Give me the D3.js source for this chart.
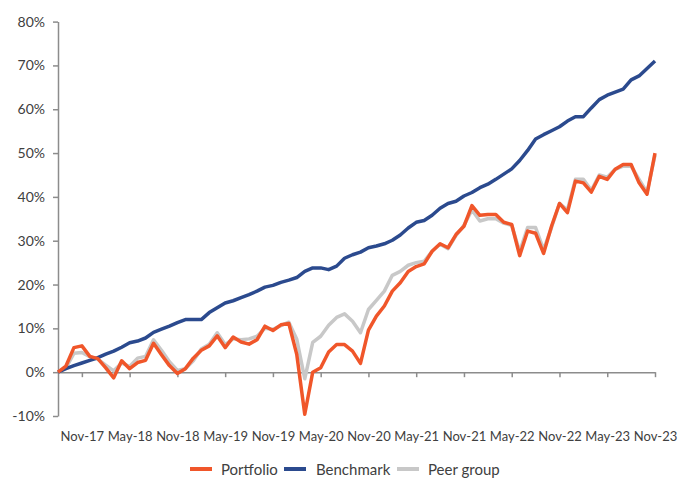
<!DOCTYPE html>
<html>
<head>
<meta charset="utf-8">
<script src="https://d3js.org/d3.v7.min.js"></script>
<style>
  body { margin: 0; background: #fff; }
  svg text { font-family: Lato, "Open Sans", sans-serif; fill: #404040; }
</style>
</head>
<body>
<svg id="chart" width="679" height="479"></svg>
<script>
// monthly points, Aug-17 .. Nov-23
var months = d3.timeMonths(new Date(2017, 7, 1), new Date(2023, 11, 1)).map(d3.timeFormat("%b-%y"));

var portfolio = [0, 1.4, 5.6, 6.0, 3.6, 3.1, 1.0, -1.3, 2.6, 0.8, 2.2, 2.7, 6.6, 4.0, 1.5, -0.3,
  0.8, 3.2, 5.0, 6.0, 8.3, 5.6, 8.0, 6.9, 6.4, 7.4, 10.5, 9.5, 10.8, 11.1, 4.0, -9.6,
  0.0, 1.0, 4.6, 6.3, 6.3, 4.8, 2.0, 9.6, 12.8, 15.1, 18.5, 20.4, 23.0, 24.1, 24.7, 27.6,
  29.3, 28.4, 31.4, 33.3, 38.0, 35.8, 36.0, 36.0, 34.2, 33.7, 26.6, 32.2, 31.7, 27.1, 33.3, 38.5,
  36.4, 43.6, 43.2, 41.1, 44.7, 44.0, 46.3, 47.4, 47.4, 43.2, 40.6, 50.0];

var benchmark = [0, 0.8, 1.5, 2.1, 2.7, 3.3, 4.1, 4.8, 5.7, 6.7, 7.1, 7.8, 9.1, 9.8, 10.5, 11.3,
  12.0, 12.0, 12.0, 13.6, 14.7, 15.8, 16.3, 17.0, 17.7, 18.5, 19.4, 19.8, 20.5, 21.0, 21.6, 23.0,
  23.8, 23.8, 23.4, 24.2, 26.0, 26.8, 27.4, 28.4, 28.8, 29.3, 30.1, 31.3, 32.9, 34.2, 34.6, 35.8,
  37.4, 38.5, 39.0, 40.2, 41.0, 42.1, 42.9, 44.0, 45.2, 46.4, 48.3, 50.6, 53.2, 54.2, 55.1, 56.0,
  57.3, 58.3, 58.3, 60.3, 62.2, 63.2, 63.9, 64.6, 66.7, 67.6, 69.3, 71.0];

var peer = [0, 1.0, 4.3, 4.5, 3.5, 3.0, 1.6, 0.3, 2.1, 1.3, 3.2, 3.6, 7.4, 5.0, 2.4, 0.4,
  0.8, 2.6, 5.3, 6.4, 9.0, 6.3, 7.6, 7.4, 7.6, 8.2, 10.0, 9.8, 10.6, 11.4, 7.5, -1.5,
  6.8, 8.2, 10.7, 12.5, 13.3, 11.6, 9.0, 14.3, 16.4, 18.5, 22.1, 23.0, 24.4, 25.0, 25.3, 27.6,
  29.2, 28.2, 31.2, 33.5, 37.0, 34.5, 35.0, 35.0, 34.0, 33.5, 27.5, 33.0, 33.0, 28.0, 33.0, 38.5,
  37.0, 44.0, 44.0, 41.5, 45.0, 44.5, 46.3, 47.0, 47.0, 44.0, 41.0, 49.5];

var yTicks = [-10, 0, 10, 20, 30, 40, 50, 60, 70, 80];
var xTicks = months.filter(function(m) { return m.startsWith("Nov") || m.startsWith("May"); });

var svg = d3.select("#chart");

var x = d3.scalePoint().domain(months).range([58, 655]);
var y = d3.scaleLinear().domain([-10, 80]).range([416, 21.6]);

// y axis
var yAxis = svg.append("g")
    .attr("transform", "translate(58,0)")
    .call(d3.axisLeft(y).tickValues(yTicks).tickSize(5).tickSizeOuter(0).tickPadding(8)
      .tickFormat(function(d) { return d + "%"; }));
yAxis.selectAll("text").style("font-size", "14px");

// x axis sits on 0%
var xAxis = svg.append("g")
    .attr("transform", "translate(0," + y(0) + ")")
    .call(d3.axisBottom(x).tickValues(xTicks).tickSize(5).tickSizeOuter(0));
xAxis.selectAll("text").attr("y", 60).style("font-size", "13px");

svg.selectAll(".domain, .tick line").attr("stroke", "#8c8c8c").attr("stroke-width", 1.5);

var line = d3.line()
    .x(function(d, i) { return x(months[i]); })
    .y(function(d) { return y(d); });

svg.append("path").datum(peer).attr("d", line)
    .attr("fill", "none").attr("stroke", "#C8C8C8").attr("stroke-width", 3.5).attr("stroke-linejoin", "round");
svg.append("path").datum(benchmark).attr("d", line)
    .attr("fill", "none").attr("stroke", "#2B4A8E").attr("stroke-width", 3.5).attr("stroke-linejoin", "round");
svg.append("path").datum(portfolio).attr("d", line)
    .attr("fill", "none").attr("stroke", "#F0562A").attr("stroke-width", 3.5).attr("stroke-linejoin", "round");

// legend
svg.append("line").attr("x1", 190).attr("x2", 212).attr("y1", 469).attr("y2", 469).attr("stroke", "#F0562A").attr("stroke-width", 4)
svg.append("line").attr("x1", 284).attr("x2", 306).attr("y1", 469).attr("y2", 469).attr("stroke", "#2B4A8E").attr("stroke-width", 4)
svg.append("line").attr("x1", 397).attr("x2", 419).attr("y1", 469).attr("y2", 469).attr("stroke", "#C8C8C8").attr("stroke-width", 4)
svg.append("text").attr("x", 221).attr("y", 469).text("Portfolio").style("font-size", "15px").attr("dominant-baseline", "central")
svg.append("text").attr("x", 316).attr("y", 469).text("Benchmark").style("font-size", "15px").attr("dominant-baseline", "central")
svg.append("text").attr("x", 428).attr("y", 469).text("Peer group").style("font-size", "15px").attr("dominant-baseline", "central")
</script>
</body>
</html>
